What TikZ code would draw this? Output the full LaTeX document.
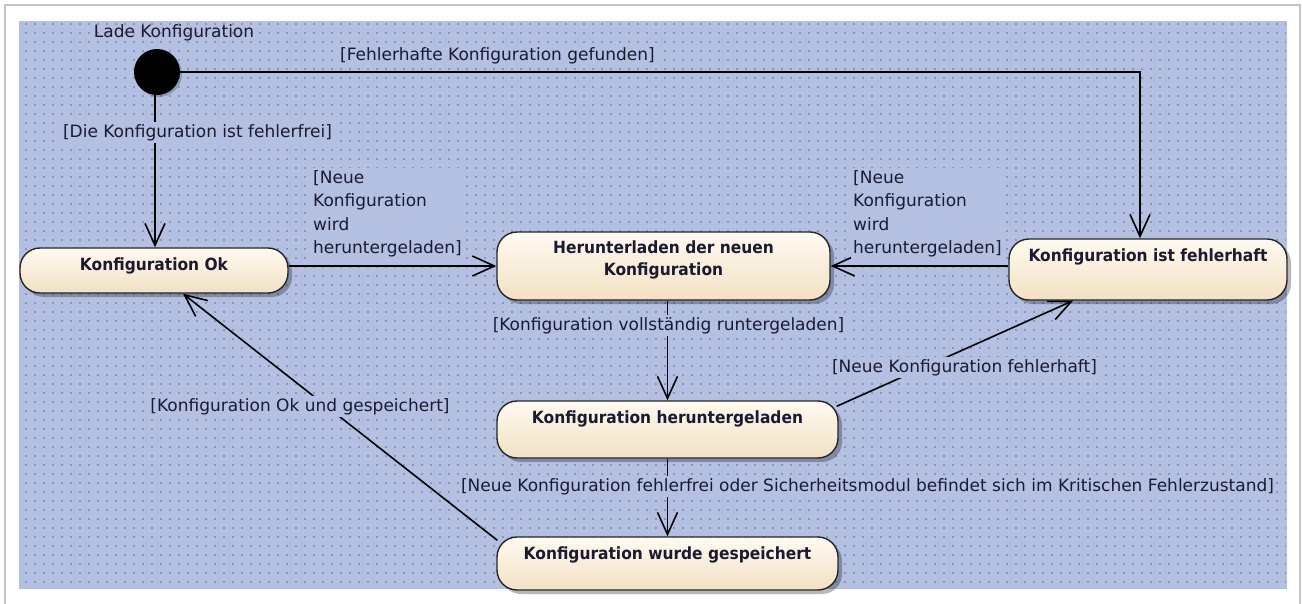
\documentclass[tikz,border=0pt]{standalone}
\usepackage{fontspec}
\setmainfont{DejaVu Sans}
\newfontfamily\statefont{DejaVu Sans}[FakeStretch=0.92]
\usetikzlibrary{arrows.meta,shadows,calc}
\definecolor{bg}{HTML}{B4C0E2}
\definecolor{dotc}{HTML}{8A96BC}
\definecolor{frame}{HTML}{C4C4C4}
\definecolor{cremetop}{HTML}{FFFAF0}
\definecolor{cremebot}{HTML}{F2E0C4}
\definecolor{txt}{HTML}{1A1A30}
\tikzset{
  state/.style={draw=black!85, line width=1.4pt, top color=cremetop, bottom color=cremebot,
    rounded corners=20pt, inner sep=0pt,
    drop shadow={shadow xshift=4pt, shadow yshift=-4pt, fill=black, opacity=0.28}},
  stxt/.style={font=\statefont\bfseries\fontsize{16.8}{22}\selectfont, text=txt, inner sep=0pt, align=center},
  lbl/.style={font=\fontsize{17}{23.5}\selectfont, text=txt, fill=bg, inner sep=2pt},
  conn/.style={draw=black, line width=1.6pt, -{Straight Barb[length=22pt,width=20pt]}}
}
\begin{document}
\begin{tikzpicture}[x=1pt,y=-1pt]
\useasboundingbox (0,0) rectangle (1302,603);
\fill[white] (0,0) rectangle (1302,603);
\draw[frame, line width=2.5pt] (5,5) rectangle (1300,620);
\fill[bg] (19,21) rectangle (1287,589);
\foreach \i in {0,...,62}{
  \draw[dotc, line width=2pt, dash pattern=on 2pt off 7pt] (25,24+9*\i) -- (1286,24+9*\i);
}
% states
\node[circle, fill=black, minimum size=46pt, inner sep=0pt,
  drop shadow={shadow xshift=2pt, shadow yshift=-2pt, fill=black, opacity=0.2}] (init) at (157,72) {};
\node[state, minimum width=268pt, minimum height=45pt] (ok) at (154,270.5) {};
\node[state, minimum width=333pt, minimum height=68pt] (her) at (663.5,266) {};
\node[state, minimum width=278pt, minimum height=61pt] (feh) at (1148,269.5) {};
\node[state, minimum width=341pt, minimum height=57pt] (hgl) at (667.5,429.5) {};
\node[state, minimum width=341pt, minimum height=53pt] (ges) at (667.5,563.5) {};
\node[stxt, anchor=base] (okt) at ($(ok.north)+(0,23)$) {Konfiguration Ok};
\node[stxt, anchor=north] (hert) at ($(her.north)+(0,9.3)$) {Herunterladen der neuen\\Konfiguration};
\node[stxt, anchor=base] (feht) at ($(feh.north)+(0,23)$) {Konfiguration ist fehlerhaft};
\node[stxt, anchor=base] (hglt) at ($(hgl.north)+(0,23)$) {Konfiguration heruntergeladen};
\node[stxt, anchor=base] (gest) at ($(ges.north)+(0,23)$) {Konfiguration wurde gespeichert};
% connectors
\coordinate (fehin) at ($(feh.north)+(-8,0)$);
\coordinate (okin) at ($(ok.north)+(1,0)$);
\draw[conn] (init.east) -- (init.east -| fehin) -- (fehin);
\draw[conn] (init.south -| okin) -- (okin);
\draw[conn] (ok.east |- her.west) -- (her.west);
\draw[conn] (feh.west |- her.east) -- (her.east);
\draw[conn] (hgl.north |- her.south) -- (hgl.north);
\draw[conn] (hgl.south) -- (ges.north);
\draw[conn] ($(hgl.north east)+(-2,6)$) -- ($(feh.south)+(-75,0)$);
\draw[conn] ($(ges.north west)+(1,4)$) -- ($(ok.south)+(29,0)$);
% labels
\node[lbl, fill=none, anchor=base] (l0) at (174,37) {Lade Konfiguration};
\node[lbl, anchor=base] (l1) at (497.5,60) {[Fehlerhafte Konfiguration gefunden]};
\node[lbl, anchor=base] (l2) at (197.5,137) {[Die Konfiguration ist fehlerfrei]};
\node[lbl, anchor=north west, align=left] (l3) at (311,168) {[Neue\\Konfiguration\\wird\\heruntergeladen]};
\node[lbl, anchor=north west, align=left] (l4) at (851,168) {[Neue\\Konfiguration\\wird\\heruntergeladen]};
\node[lbl, anchor=base] (l5) at (668.5,330) {[Konfiguration vollständig runtergeladen]};
\node[lbl, anchor=base] (l6) at (964.5,372) {[Neue Konfiguration fehlerhaft]};
\node[lbl, anchor=base] (l7) at (300,411) {[Konfiguration Ok und gespeichert]};
\node[lbl, anchor=base] (l8) at (867.5,491) {[Neue Konfiguration fehlerfrei oder Sicherheitsmodul befindet sich im Kritischen Fehlerzustand]};
\end{tikzpicture}
\end{document}
